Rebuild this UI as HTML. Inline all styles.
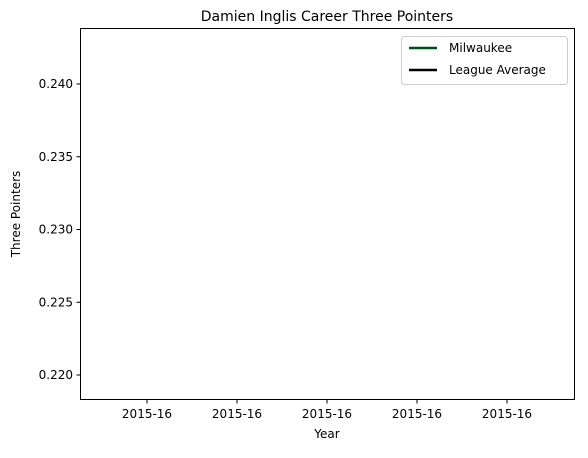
<!DOCTYPE html>
<html><head><meta charset="utf-8"><style>
body{margin:0;background:#fff;font-family:"Liberation Sans","DejaVu Sans",sans-serif;}
svg text{font-family:"DejaVu Sans","Liberation Sans",sans-serif;font-size:12px;fill:#000;}
</style></head><body>
<svg id="chart" width="588" height="453" xmlns="http://www.w3.org/2000/svg">
<rect width="588" height="453" fill="#fff"/>
<text x="327" y="21" text-anchor="middle" style="font-size:14px">Damien Inglis Career Three Pointers</text>
<g id="plot"></g>
<rect x="80.5" y="28.5" width="494" height="371" fill="none" stroke="#000" stroke-width="1"/>
<text x="327" y="438" text-anchor="middle">Year</text>
<text transform="translate(20,214) rotate(-90)" text-anchor="middle">Three Pointers</text>
<g>
<rect x="401.5" y="36.5" width="166" height="48" rx="3" fill="#fff" stroke="#ccc"/>
<line x1="409" y1="48" x2="437" y2="48" stroke="#004d1a" stroke-width="2.5"/>
<text x="449" y="52">Milwaukee</text>
<line x1="409" y1="70" x2="437" y2="70" stroke="#000" stroke-width="2.5"/>
<text x="449" y="74">League Average</text>
</g>
</svg>
<script>
const years = ["2015-16"];
const milwaukee = [0.2311];
const leagueAvg = [0.2311];
const xTickVals = [-0.04,-0.02,0,0.02,0.04];
const xTickLabels = ["2015-16","2015-16","2015-16","2015-16","2015-16"];
const yTickVals = [0.220,0.225,0.230,0.235,0.240];
const NS="http://www.w3.org/2000/svg";
const g=document.getElementById('plot');
function xs(v){return 327+v*4500;}
function ys(v){return 375-(v-0.220)*14550;}
function mk(t,a){const e=document.createElementNS(NS,t);for(const k in a)e.setAttribute(k,a[k]);g.appendChild(e);return e;}
xTickVals.forEach((v,i)=>{
 const l=mk('line',{x1:xs(v),x2:xs(v),y1:399,y2:403.5,stroke:'#000'});
 
 
 const t=mk('text',{x:xs(v),y:418,'text-anchor':'middle'});t.textContent=xTickLabels[i];
 
 
});
yTickVals.forEach(v=>{
 const l=mk('line',{x1:76.5,x2:80,y1:ys(v),y2:ys(v),stroke:'#000'});
 
 
 const t=mk('text',{x:73,y:ys(v)+4,'text-anchor':'end'});t.textContent=v.toFixed(3);
 
 
});
function line(arr,color,name){
 const pts=arr.map((v,i)=>xs(i*0.02)+','+ys(v)).join(' ');
 const p=mk('polyline',{points:pts,fill:'none',stroke:color,'stroke-width':2});
 
 
}
line(milwaukee,'#004d1a','milwaukee-line');
line(leagueAvg,'#000','league-average-line');
</script>
</body></html>
